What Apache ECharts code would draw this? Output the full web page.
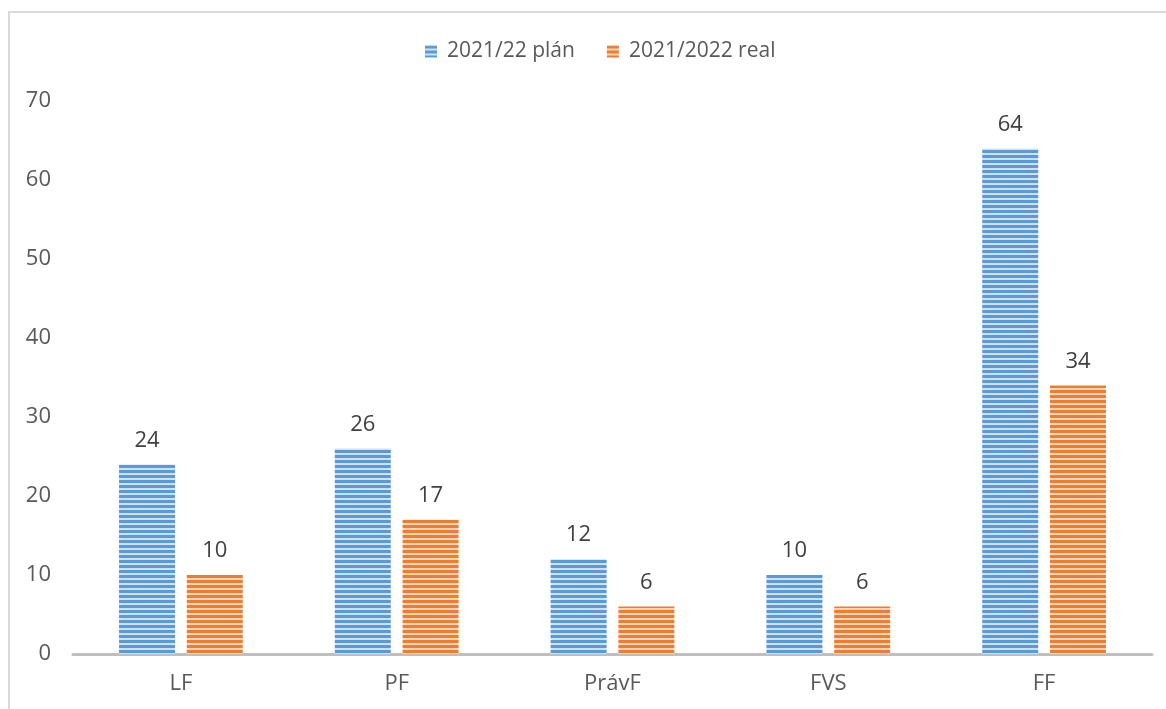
<!DOCTYPE html>
<html>
<head>
<meta charset="utf-8">
<script src="https://cdn.jsdelivr.net/npm/echarts@6/dist/echarts.min.js"></script>
<style>
  html, body { margin: 0; padding: 0; background: #fff; }
  #frame { position: absolute; left: 8px; top: 11px; width: 1200px; height: 740px;
           border-left: 2px solid #d9d9d9; border-top: 2px solid #d9d9d9; }
  #chart { width: 1166px; height: 709px; position: absolute; left: 0; top: 0; }
</style>
</head>
<body>
<div id="frame"></div>
<div id="chart"></div>
<script>
var categories = ['LF', 'PF', 'PrávF', 'FVS', 'FF'];
var planName = '2021/22 plán';
var realName = '2021/2022 real';
var planValues = [24, 26, 12, 10, 64];
var realValues = [10, 17, 6, 6, 34];

// horizontal striped fill, like the Excel pattern
function stripes(dark, light) {
  var c = document.createElement('canvas');
  c.width = 8; c.height = 5;
  var ctx = c.getContext('2d');
  ctx.fillStyle = light;
  ctx.fillRect(0, 0, 8, 5);
  ctx.fillStyle = dark;
  ctx.fillRect(0, 0, 8, 3);
  return { image: c, repeat: 'repeat' };
}

var blue = stripes('#5b9bd5', '#cfe1f3');
var orange = stripes('#ed7d31', '#fad6bd');
var font = 'Open Sans';

var chart = echarts.init(document.getElementById('chart'));
var option = {
  animation: false,
  legend: {
    top: 36,
    left: 420,
    itemWidth: 12,
    itemHeight: 12,
    itemGap: 32,
    icon: 'rect',
    textStyle: { color: '#595959', fontSize: 21, fontFamily: font, padding: [0, 0, 0, 5] },
    data: [planName, realName]
  },
  grid: { left: 73, right: 14, top: 101, bottom: 55 },
  xAxis: {
    type: 'category',
    data: categories,
    axisLine: { lineStyle: { color: '#bfbfbf', width: 3 } },
    axisTick: { show: false },
    axisLabel: { color: '#595959', fontSize: 22, margin: 19, fontFamily: font }
  },
  yAxis: {
    type: 'value',
    min: 0, max: 70, interval: 10,
    splitLine: { show: false },
    axisLine: { show: false },
    axisTick: { show: false },
    axisLabel: { color: '#595959', fontSize: 22, margin: 22, fontFamily: font }
  },
  series: [
    {
      name: planName, type: 'bar', data: planValues,
      barWidth: 56, barGap: '21%',
      itemStyle: { color: blue },
      label: { show: true, position: 'top', distance: 13, color: '#404040', fontSize: 22, fontFamily: font }
    },
    {
      name: realName, type: 'bar', data: realValues,
      barWidth: 56,
      itemStyle: { color: orange },
      label: { show: true, position: 'top', distance: 13, color: '#404040', fontSize: 22, fontFamily: font }
    }
  ]
};
chart.setOption(option);
</script>
</body>
</html>
